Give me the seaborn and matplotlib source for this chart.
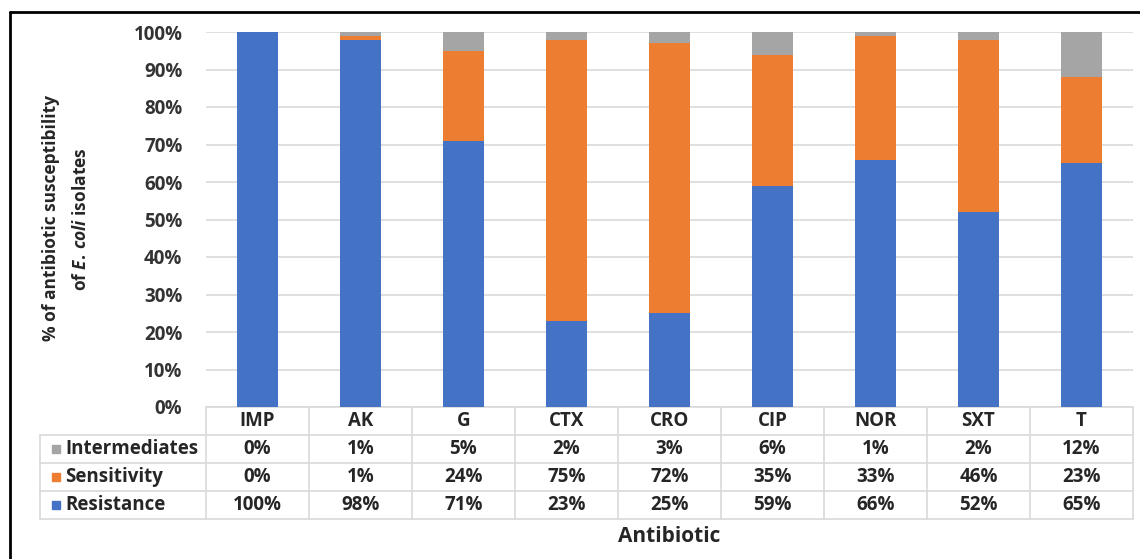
import numpy as np
import pandas as pd
import matplotlib
matplotlib.use("Agg")
import matplotlib.pyplot as plt
import matplotlib.transforms as mtransforms
from matplotlib.lines import Line2D
from matplotlib.patches import Rectangle
import seaborn as sns

# Antibiotic susceptibility of E. coli isolates (%)
antibiotics = ["IMP", "AK", "G", "CTX", "CRO", "CIP", "NOR", "SXT", "T"]
resistance = [100, 98, 71, 23, 25, 59, 66, 52, 65]
sensitivity = [0, 1, 24, 75, 72, 35, 33, 46, 23]
intermediates = [0, 1, 5, 2, 3, 6, 1, 2, 12]

series_names = ["Intermediates", "Sensitivity", "Resistance"]
series_values = [intermediates, sensitivity, resistance]
colors = {"Resistance": "#4472C4", "Sensitivity": "#ED7D31", "Intermediates": "#A5A5A5"}

sns.set_theme(style="white")
FONT = "Open Sans"
plt.rcParams["font.family"] = [FONT, "DejaVu Sans"]
plt.rcParams["font.weight"] = "bold"
plt.rcParams["mathtext.fontset"] = "custom"
plt.rcParams["mathtext.rm"] = f"{FONT}:bold"
plt.rcParams["mathtext.it"] = f"{FONT}:bold:italic"

TXT = "#262626"
FS_TICK = 13.5
FS_TAB = 13.5
FS_YLAB = 12.5
FS_XLAB = 15

W, H = 1140, 559
fig = plt.figure(figsize=(W / 100, H / 100), dpi=100)
ax = fig.add_axes([206 / W, 1 - 407 / H, (1133 - 206) / W, (407 - 32) / H])

df = pd.DataFrame({"Antibiotic": antibiotics,
                   "Resistance": resistance,
                   "Sensitivity": sensitivity,
                   "Intermediates": intermediates})
df["R"] = df["Resistance"] / 100
df["RS"] = (df["Resistance"] + df["Sensitivity"]) / 100
df["RSI"] = (df["Resistance"] + df["Sensitivity"] + df["Intermediates"]) / 100

# stacked bars: draw cumulative totals from the top segment down
for col, name in [("RSI", "Intermediates"), ("RS", "Sensitivity"), ("R", "Resistance")]:
    sns.barplot(data=df, x="Antibiotic", y=col, order=antibiotics, color=colors[name],
                saturation=1, width=0.4, ax=ax, zorder=3, linewidth=0)

ax.set_xlim(-0.5, len(antibiotics) - 0.5)
ax.set_ylim(0, 1)
ticks = np.arange(0, 1.01, 0.1)
ax.set_yticks(ticks)
ax.set_yticklabels([f"{int(round(v * 100))}%" for v in ticks],
                   fontsize=FS_TICK, fontweight="bold", color="#333333")
ax.tick_params(axis="y", length=0, pad=17)
ax.set_xticks([])
ax.set_xlabel("")
ax.set_ylabel("")
for s in ax.spines.values():
    s.set_visible(False)
ax.yaxis.grid(True, color="#D9D9D9", linewidth=1.2, zorder=0)
ax.set_axisbelow(True)

# data table under the plot
grid_c = "#D9D9D9"
ax_h = 407 - 32
def ay(ypix):
    return (407 - ypix) / ax_h

trans = mtransforms.blended_transform_factory(ax.transData, ax.transAxes)
row_edges = [407, 435, 463, 491, 519]
n = len(antibiotics)
for yp in row_edges:
    ax.add_line(Line2D([-0.5, n - 0.5], [ay(yp), ay(yp)], transform=trans,
                       color=grid_c, lw=1.2, clip_on=False))
for yp in row_edges[1:]:
    fig.add_artist(Line2D([40 / W, 206 / W], [1 - yp / H, 1 - yp / H],
                          color=grid_c, lw=1.2))
fig.add_artist(Line2D([40 / W, 40 / W], [1 - 435 / H, 1 - 519 / H], color=grid_c, lw=1.2))
for i in range(n + 1):
    xv = i - 0.5
    ax.add_line(Line2D([xv, xv], [ay(407), ay(519)], transform=trans,
                       color=grid_c, lw=1.2, clip_on=False))

txt_kw = dict(ha="center", va="center", fontsize=FS_TAB, fontweight="bold",
              color=TXT, transform=trans, clip_on=False)
for i, a in enumerate(antibiotics):
    ax.text(i, ay(421), a, **txt_kw)
    for r, vals in enumerate(series_values):
        ax.text(i, ay(449 + 28 * r), f"{vals[i]}%", **txt_kw)

for r, name in enumerate(series_names):
    yc = 449 + 28 * r
    fig.add_artist(Rectangle((52 / W, 1 - (yc + 4) / H), 8 / W, 8 / H,
                             color=colors[name], transform=fig.transFigure))
    fig.text(65 / W, 1 - yc / H, name, ha="left", va="center", fontsize=FS_TAB,
             fontweight="bold", color=TXT)

# axis titles
fig.text(669 / W, 1 - 536 / H, "Antibiotic", ha="center", va="center",
         fontsize=FS_XLAB, fontweight="bold", color=TXT)
fig.text(51 / W, 1 - 218 / H, "% of antibiotic susceptibility", rotation=90,
         ha="center", va="center", fontsize=FS_YLAB, fontweight="bold", color=TXT)
fig.text(81 / W, 1 - 219 / H, r"of $\mathit{E.\,coli}$ isolates", rotation=90,
         ha="center", va="center", fontsize=FS_YLAB, fontweight="bold", color=TXT)

# outer frame
fig.add_artist(Line2D([10 / W, 10 / W], [0, 1 - 12 / H], color="black", lw=2))
fig.add_artist(Line2D([10 / W, 1], [1 - 12 / H, 1 - 12 / H], color="black", lw=2))

fig.savefig("out.png", dpi=100, facecolor="white")
